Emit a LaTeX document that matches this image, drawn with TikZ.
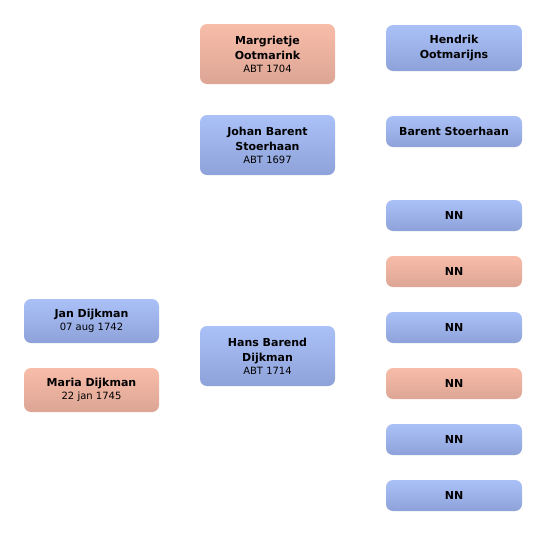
\documentclass[tikz,border=0pt]{standalone}
\usepackage{fontspec}
\setmainfont{DejaVu Sans}
\definecolor{bluetop}{HTML}{AAC1F7}
\definecolor{bluebot}{HTML}{8EA2D9}
\definecolor{redtop}{HTML}{F8BDA9}
\definecolor{redbot}{HTML}{DCA594}
\tikzset{
  person/.style={rounded corners=7pt, inner sep=0pt, align=center, font=\fontsize{11}{15.5}\selectfont\bfseries, text=black},
  male/.style={person, top color=bluetop, bottom color=bluebot},
  female/.style={person, top color=redtop, bottom color=redbot},
}
\newcommand{\dt}[1]{\\[-3pt]{\fontsize{10}{11}\selectfont\mdseries #1}}
\begin{document}
\begin{tikzpicture}[x=1pt,y=-1pt]
\useasboundingbox (0,0) rectangle (546,536);
% generation 1
\node[male, minimum width=135pt, minimum height=44pt] (jan) at (91.5,321) {Jan Dijkman\dt{07 aug 1742}};
\node[female, minimum width=135pt, minimum height=44pt] (maria) at (91.5,390) {Maria Dijkman\dt{22 jan 1745}};
% generation 2
\node[female, minimum width=135pt, minimum height=60pt] (margrietje) at (267.5,54) {Margrietje\\Ootmarink\dt{ABT 1704}};
\node[male, minimum width=135pt, minimum height=60pt] (johan) at (267.5,145) {Johan Barent\\Stoerhaan\dt{ABT 1697}};
\node[male, minimum width=135pt, minimum height=60pt] (hans) at (267.5,356) {Hans Barend\\Dijkman\dt{ABT 1714}};
% generation 3
\node[male, minimum width=136pt, minimum height=46pt] (hendrik) at (454,48) {Hendrik\\Ootmarijns};
\node[male, minimum width=136pt, minimum height=31pt] (barent) at (454,131.5) {Barent Stoerhaan};
\node[male, minimum width=136pt, minimum height=31pt] (nn1) at (454,215.5) {NN};
\node[female, minimum width=136pt, minimum height=31pt] (nn2) at (454,271.5) {NN};
\node[male, minimum width=136pt, minimum height=31pt] (nn3) at (454,327.5) {NN};
\node[female, minimum width=136pt, minimum height=31pt] (nn4) at (454,383.5) {NN};
\node[male, minimum width=136pt, minimum height=31pt] (nn5) at (454,439.5) {NN};
\node[male, minimum width=136pt, minimum height=31pt] (nn6) at (454,495.5) {NN};
\end{tikzpicture}
\end{document}
